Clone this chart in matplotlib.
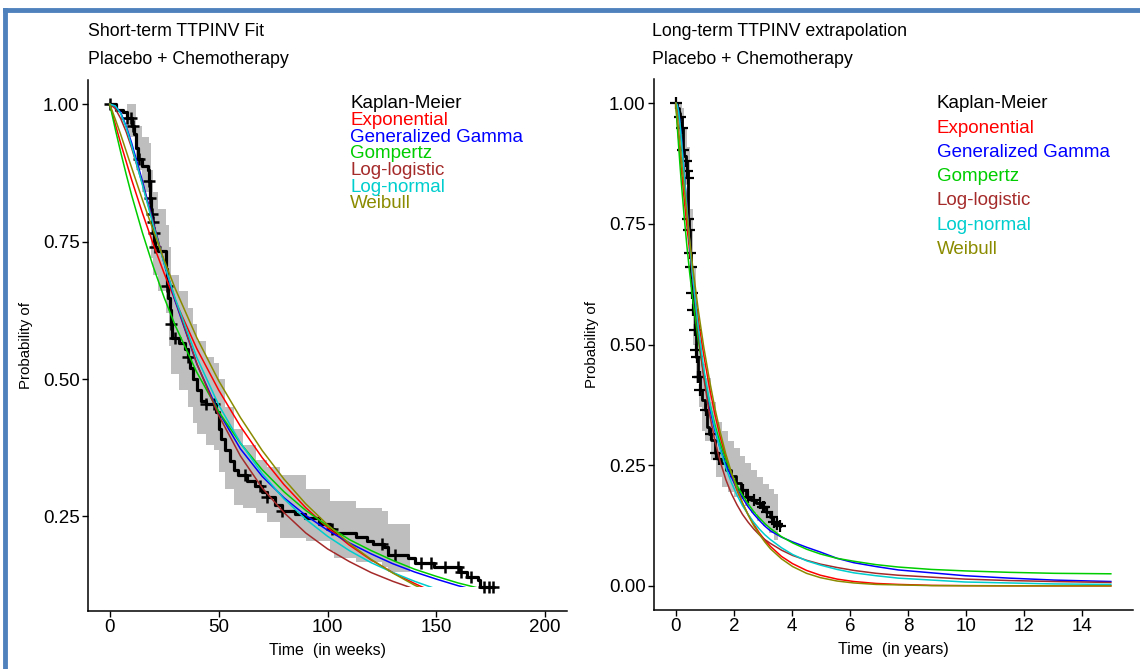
import numpy as np
import matplotlib
matplotlib.use("Agg")
import matplotlib.pyplot as plt
from matplotlib.patches import Rectangle
from matplotlib.lines import Line2D

plt.rcParams['font.family'] = ['Liberation Sans', 'DejaVu Sans']

# ---------------- data ----------------
# fitted survival curves, time in weeks
t_wk = [0, 2.5, 5, 7.5, 10, 15, 20, 25, 30, 40, 50, 60, 70, 80, 90, 100, 110, 120, 130, 140,
        150, 160, 170, 190, 210, 235, 260, 290, 320, 360, 400, 460, 520, 600, 680, 782]
s_exponential = [1.0, 0.964, 0.929, 0.896, 0.863, 0.802, 0.745, 0.692, 0.643, 0.555, 0.480, 0.414,
                 0.357, 0.308, 0.266, 0.230, 0.198, 0.171, 0.148, 0.128, 0.110, 0.095, 0.082, 0.061,
                 0.046, 0.032, 0.022, 0.014, 0.009, 0.005, 0.003, 0.001, 0.0005, 0.0001, 0.0, 0.0]
s_gengamma = [1.0, 0.996, 0.985, 0.96, 0.93, 0.86, 0.785, 0.71, 0.642, 0.527, 0.44, 0.373,
              0.323, 0.284, 0.252, 0.225, 0.202, 0.182, 0.164, 0.149, 0.136, 0.124, 0.114, 0.101,
              0.091, 0.080, 0.070, 0.057, 0.048, 0.040, 0.033, 0.027, 0.021, 0.016, 0.012, 0.009]
s_gompertz = [1.0, 0.955, 0.913, 0.873, 0.835, 0.766, 0.704, 0.648, 0.598, 0.512, 0.441, 0.383,
              0.335, 0.295, 0.261, 0.233, 0.208, 0.188, 0.170, 0.154, 0.141, 0.129, 0.119, 0.102,
              0.089, 0.076, 0.066, 0.057, 0.051, 0.044, 0.039, 0.034, 0.031, 0.028, 0.026, 0.025]
s_loglogistic = [1.0, 0.992, 0.974, 0.950, 0.921, 0.855, 0.783, 0.712, 0.645, 0.528, 0.434, 0.360,
                 0.302, 0.257, 0.220, 0.191, 0.168, 0.148, 0.132, 0.118, 0.106, 0.096, 0.088, 0.074,
                 0.063, 0.053, 0.045, 0.038, 0.032, 0.026, 0.022, 0.018, 0.014, 0.011, 0.009, 0.007]
s_lognormal = [1.0, 0.997, 0.983, 0.958, 0.925, 0.853, 0.779, 0.710, 0.647, 0.539, 0.453, 0.384,
               0.328, 0.282, 0.245, 0.214, 0.188, 0.166, 0.148, 0.132, 0.118, 0.106, 0.096, 0.079,
               0.065, 0.052, 0.043, 0.034, 0.027, 0.021, 0.016, 0.012, 0.008, 0.006, 0.004, 0.003]
s_weibull = [1.0, 0.973, 0.945, 0.915, 0.885, 0.826, 0.770, 0.716, 0.665, 0.575, 0.497, 0.430,
             0.370, 0.318, 0.273, 0.235, 0.201, 0.172, 0.147, 0.125, 0.107, 0.091, 0.077, 0.056,
             0.040, 0.026, 0.017, 0.010, 0.006, 0.003, 0.002, 0.0005, 0.0002, 0.0, 0.0, 0.0]

model_names = ["Exponential", "Generalized Gamma", "Gompertz", "Log-logistic", "Log-normal", "Weibull"]
model_colors = ["#FF0000", "#0000FF", "#00CD00", "#A52A2A", "#00CDCD", "#8B8B00"]

# Kaplan-Meier, short-term panel (weeks)
km_t = [0, 3, 6, 8, 10, 11, 12, 13, 15, 17.5, 18, 18.5, 19, 19.6, 20, 20.4, 21, 22, 25.6, 26,
        26.4, 26.8, 27.5, 28, 28.8, 32, 34.7, 36, 37, 38, 40, 42, 44, 49, 50, 51, 53, 55, 57, 59,
        63, 66.7, 70, 72, 76, 79, 85, 89.5, 96, 101, 103, 113, 118, 121, 126, 128, 137, 140, 149,
        161, 164, 169, 170, 176]
km_s = [1.0, 0.99, 0.985, 0.975, 0.96, 0.945, 0.92, 0.90, 0.887, 0.88, 0.86, 0.83, 0.80, 0.785,
        0.765, 0.75, 0.74, 0.733, 0.727, 0.70, 0.67, 0.648, 0.625, 0.60, 0.575, 0.565, 0.555, 0.54,
        0.52, 0.50, 0.48, 0.46, 0.455, 0.44, 0.41, 0.39, 0.37, 0.35, 0.335, 0.325, 0.315, 0.305,
        0.295, 0.285, 0.27, 0.26, 0.255, 0.248, 0.237, 0.228, 0.219, 0.212, 0.205, 0.20, 0.194,
        0.179, 0.174, 0.165, 0.158, 0.149, 0.14, 0.134, 0.121, 0.121]
km_censor = [0, 8, 9.6, 10.5, 13.5, 18.2, 18.6, 19.2, 19.8, 20.2, 21, 26.5, 28, 30, 36, 44, 48,
             62, 69, 72, 79, 102, 125, 131, 143, 147.5, 154, 160, 161.5, 166, 172, 174, 176]
band_t = [0, 8, 12, 15, 18, 19, 20, 22, 26, 27, 28, 32, 36, 38, 40, 44, 48, 50, 53, 57, 61, 67,
          72, 78, 90, 101, 103, 113, 125, 128, 138]
band_hi = [1.0, 1.0, 0.96, 0.94, 0.93, 0.88, 0.84, 0.81, 0.78, 0.74, 0.69, 0.66, 0.63, 0.60, 0.57,
           0.54, 0.53, 0.50, 0.45, 0.41, 0.38, 0.352, 0.34, 0.325, 0.30, 0.278, 0.278, 0.265, 0.26,
           0.237, 0.235]
band_lo = [1.0, 0.94, 0.88, 0.84, 0.80, 0.72, 0.69, 0.66, 0.62, 0.56, 0.51, 0.48, 0.45, 0.42, 0.40,
           0.38, 0.37, 0.33, 0.30, 0.27, 0.265, 0.256, 0.24, 0.21, 0.206, 0.188, 0.174, 0.167, 0.158,
           0.149, 0.149]

# Kaplan-Meier, long-term panel (years)
kmr_t = [0, 0.05, 0.1, 0.14, 0.2, 0.24, 0.3, 0.34, 0.38, 0.41, 0.42, 0.43, 0.45, 0.48, 0.51, 0.54,
         0.56, 0.6, 0.65, 0.69, 0.71, 0.77, 0.83, 0.9, 1.0, 1.06, 1.15, 1.23, 1.34, 1.45, 1.57, 1.74,
         1.9, 2.09, 2.25, 2.43, 2.6, 2.78, 2.95, 3.12, 3.25, 3.34, 3.45, 3.58]
kmr_s = [1.0, 0.99, 0.98, 0.971, 0.948, 0.902, 0.89, 0.88, 0.86, 0.844, 0.80, 0.76, 0.737, 0.689,
         0.66, 0.64, 0.606, 0.571, 0.53, 0.488, 0.474, 0.433, 0.405, 0.385, 0.364, 0.33, 0.315,
         0.302, 0.275, 0.262, 0.254, 0.24, 0.228, 0.213, 0.198, 0.185, 0.178, 0.171, 0.163, 0.154,
         0.142, 0.133, 0.128, 0.123]
kmr_censor = [0, 0.14, 0.2, 0.24, 0.34, 0.38, 0.41, 0.43, 0.45, 0.48, 0.53, 0.56, 0.6, 0.65, 0.7,
              0.72, 0.78, 0.82, 0.85, 1.05, 1.2, 1.4, 1.5, 2.3, 2.5, 2.7, 2.9, 3.0, 3.05, 3.15, 3.3,
              3.4, 3.5, 3.58]
bandr_t = [0, 0.1, 0.2, 0.3, 0.4, 0.5, 0.6, 0.7, 0.8, 0.9, 1.0, 1.2, 1.4, 1.6, 1.8, 2.0, 2.2, 2.4,
           2.6, 2.8, 3.0, 3.2, 3.4, 3.51]
bandr_hi = [1.0, 1.0, 0.99, 0.95, 0.91, 0.78, 0.66, 0.57, 0.51, 0.46, 0.43, 0.38, 0.34, 0.32, 0.30,
            0.285, 0.27, 0.255, 0.24, 0.225, 0.21, 0.20, 0.19, 0.19]
bandr_lo = [1.0, 0.95, 0.90, 0.83, 0.80, 0.62, 0.50, 0.42, 0.37, 0.32, 0.30, 0.26, 0.225, 0.205,
            0.195, 0.185, 0.18, 0.165, 0.15, 0.135, 0.125, 0.11, 0.095, 0.09]

WEEKS_PER_YEAR = 52.18

# ---------------- figure ----------------
W, H = 1140, 669
fig = plt.figure(figsize=(W / 100, H / 100), dpi=100)
fig.patch.set_facecolor("white")


def px_axes(l, t, r, b):
    return fig.add_axes([l / W, 1 - b / H, (r - l) / W, (b - t) / H])


ax1 = px_axes(88, 80, 567, 611)
ax2 = px_axes(654, 79, 1133, 610)


def style(ax):
    for s in ("top", "right"):
        ax.spines[s].set_visible(False)
    for s in ("left", "bottom"):
        ax.spines[s].set_linewidth(1.1)
        ax.spines[s].set_color("black")
    ax.tick_params(axis="both", direction="out", length=4, width=1.0, color="black",
                   labelsize=13.5, labelcolor="black", pad=2)
    ax.set_facecolor("white")


def step_lookup(tt, ss, q):
    tt = np.asarray(tt)
    ss = np.asarray(ss)
    idx = np.searchsorted(tt, q, side="right") - 1
    return ss[np.clip(idx, 0, len(ss) - 1)]


all_curves = [s_exponential, s_gengamma, s_gompertz, s_loglogistic, s_lognormal, s_weibull]

# ---- left panel ----
style(ax1)
ax1.fill_between(band_t, band_lo, band_hi, step="post", color="#BEBEBE", lw=0, zorder=1)
ax1.step(km_t, km_s, where="post", color="black", lw=2.3, zorder=3)
ax1.plot(km_censor, step_lookup(km_t, km_s, km_censor), ls="none", marker="+",
         ms=9, mew=1.8, color="black", zorder=3)
clip1 = Rectangle((-10, min(km_s)), 230, 2, transform=ax1.transData)
for s, c in zip(all_curves, model_colors):
    ln, = ax1.plot(t_wk, s, color=c, lw=1.1, zorder=4)
    ln.set_clip_path(clip1)
ax1.set_xlim(-10, 210)
ax1.set_ylim(0.078, 1.044)
ax1.set_xticks([0, 50, 100, 150, 200])
ax1.set_yticks([0.25, 0.50, 0.75, 1.00])
ax1.set_yticklabels(["0.25", "0.50", "0.75", "1.00"])
ax1.set_xlabel("Time  (in weeks)", fontsize=11.5, labelpad=5)
ax1.set_ylabel("Probability of", fontsize=10.8, labelpad=7)

# ---- right panel ----
style(ax2)
ax2.fill_between(bandr_t, bandr_lo, bandr_hi, step="post", color="#BEBEBE", lw=0, zorder=1)
ax2.step(kmr_t, kmr_s, where="post", color="black", lw=2.0, zorder=3)
ax2.plot(kmr_censor, step_lookup(kmr_t, kmr_s, kmr_censor), ls="none", marker="+",
         ms=8, mew=1.6, color="black", zorder=3)
t_yr = np.asarray(t_wk) / WEEKS_PER_YEAR
for s, c in zip(all_curves, model_colors):
    ax2.plot(t_yr, s, color=c, lw=1.1, zorder=4)
ax2.set_xlim(-0.75, 15.75)
ax2.set_ylim(-0.05, 1.05)
ax2.set_xticks(list(range(0, 15, 2)))
ax2.set_yticks([0.0, 0.25, 0.50, 0.75, 1.00])
ax2.set_yticklabels(["0.00", "0.25", "0.50", "0.75", "1.00"])
ax2.set_xlabel("Time  (in years)", fontsize=11.5, labelpad=5)
ax2.set_ylabel("Probability of", fontsize=10.8, labelpad=7)

# ---- titles ----
fig.text(88 / W, 1 - 31 / H, "Short-term TTPINV Fit", fontsize=12.8, va="center", ha="left")
fig.text(88 / W, 1 - 60 / H, "Placebo + Chemotherapy", fontsize=12.8, va="center", ha="left")
fig.text(652 / W, 1 - 31 / H, "Long-term TTPINV extrapolation", fontsize=12.8, va="center", ha="left")
fig.text(652 / W, 1 - 60 / H, "Placebo + Chemotherapy", fontsize=12.8, va="center", ha="left")

# ---- legends (coloured text) ----
leg_labels = ["Kaplan-Meier"] + model_names
leg_colors = ["black"] + model_colors
for i, (lab, col) in enumerate(zip(leg_labels, leg_colors)):
    fig.text(350 / W, 1 - (104 + 16.6 * i) / H, lab, color=col, fontsize=13.5,
             va="center", ha="left")
    fig.text(937 / W, 1 - (104 + 24.2 * i) / H, lab, color=col, fontsize=13.5,
             va="center", ha="left")

# ---- blue frame ----
frame_col = "#4F81BD"
fig.add_artist(Line2D([5 / W, 1.0], [1 - 10 / H, 1 - 10 / H], color=frame_col, lw=3.5,
                      transform=fig.transFigure))
fig.add_artist(Line2D([5 / W, 5 / W], [1 - 10 / H, 0], color=frame_col, lw=3.5,
                      transform=fig.transFigure))

fig.savefig("out.png", dpi=100, facecolor="white")
